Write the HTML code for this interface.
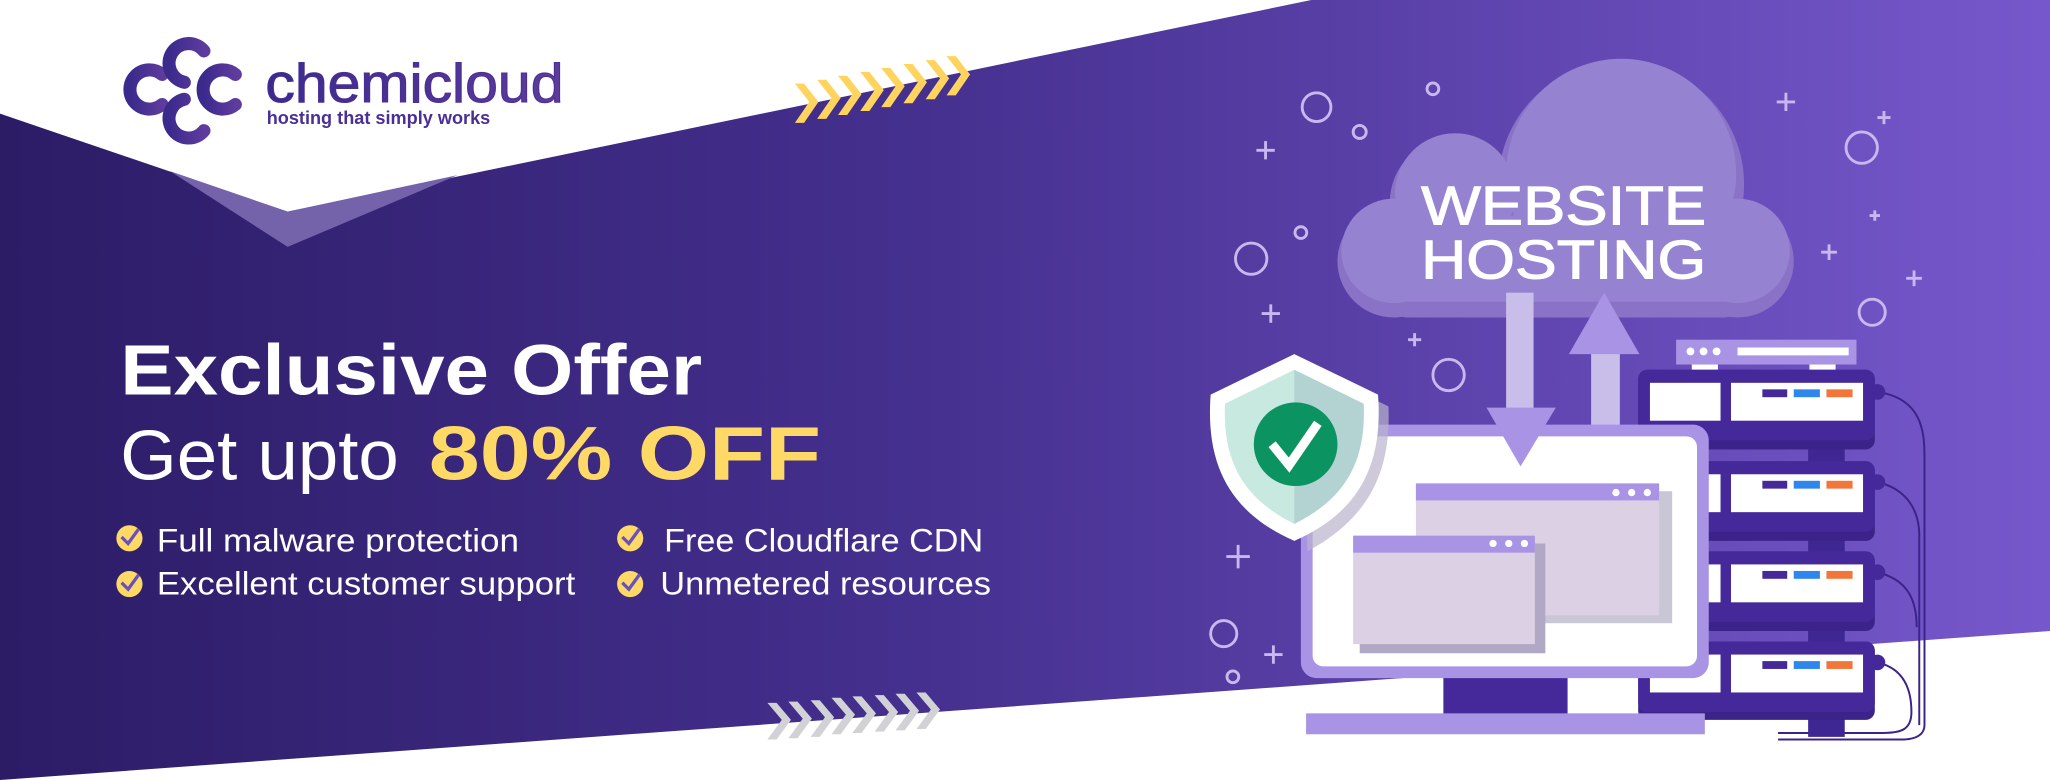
<!DOCTYPE html>
<html><head><meta charset="utf-8"><style>
html,body{margin:0;padding:0;background:#fff;}
svg{display:block;}
</style></head><body>
<svg width="2050" height="780" viewBox="0 0 1568 597" preserveAspectRatio="none" xmlns="http://www.w3.org/2000/svg">
<defs>
<linearGradient id="bg" x1="0" y1="0" x2="1" y2="0">
<stop offset="0" stop-color="#2c1c66"/><stop offset="0.45" stop-color="#45308f"/><stop offset="1" stop-color="#7758cc"/>
</linearGradient>
<linearGradient id="logo" x1="0" y1="0" x2="1" y2="0">
<stop offset="0" stop-color="#3a2a8c"/><stop offset="1" stop-color="#5e3b9c"/>
</linearGradient>
</defs>
<rect width="1568" height="597" fill="#fff"/>
<polygon points="0,87 220,162 1003,0 1568,0 1568,483 0,597" fill="url(#bg)"/>
<polygon points="130,131 220,162 350,134 220,189" fill="#7462ab"/>

<!-- logo -->
<g fill="none" stroke="url(#logo)" stroke-width="10" stroke-linecap="round">
<path d="M124,57 A15,15 0 1 0 124,80"/>
<path d="M156,39 A15,15 0 1 0 141,63"/>
<path d="M180,57 A15,15 0 1 0 180,80"/>
<path d="M141,76 A15,15 0 1 0 156,100"/>
</g>
<text x="203" y="78" font-family="Liberation Sans, sans-serif" font-size="42" fill="url(#logo)" stroke="#4a2f96" stroke-width="0.8" textLength="228" lengthAdjust="spacingAndGlyphs">chemicloud</text>
<text x="204" y="95" font-family="Liberation Sans, sans-serif" font-weight="bold" font-size="14" fill="#4a2f96" textLength="171" lengthAdjust="spacingAndGlyphs">hosting that simply works</text>

<!-- chevrons -->
<g fill="#ffd45e">
<polygon points="608,64 615,64 626,78 615,94 608,94 619,78"/>
<polygon points="625,61 632,61 643,75 632,91 625,91 636,75"/>
<polygon points="641,58 648,58 659,72 648,88 641,88 652,72"/>
<polygon points="658,55 665,55 676,69 665,85 658,85 669,69"/>
<polygon points="674,52 681,52 692,66 681,82 674,82 685,66"/>
<polygon points="691,49 698,49 709,63 698,79 691,79 702,63"/>
<polygon points="708,46 715,46 726,60 715,76 708,76 719,60"/>
<polygon points="724,43 731,43 742,57 731,73 724,73 735,57"/>
</g>
<g fill="#d2d2d6">
<polygon points="587,538 594,538 605,551 594,566 587,566 598,551"/>
<polygon points="603,537 610,537 621,550 610,565 603,565 614,550"/>
<polygon points="620,536 627,536 638,549 627,564 620,564 631,549"/>
<polygon points="636,534 643,534 654,547 643,562 636,562 647,547"/>
<polygon points="652,533 659,533 670,546 659,561 652,561 663,546"/>
<polygon points="669,532 676,532 687,545 676,560 669,560 680,545"/>
<polygon points="685,531 692,531 703,544 692,559 685,559 696,544"/>
<polygon points="701,530 708,530 719,543 708,558 701,558 712,543"/>
</g>

<!-- headline -->
<text x="92" y="302" font-family="Liberation Sans, sans-serif" font-weight="bold" font-size="55" fill="#fff" textLength="445" lengthAdjust="spacingAndGlyphs">Exclusive Offer</text>
<text x="92" y="367" font-family="Liberation Sans, sans-serif" font-size="54" fill="#fff" textLength="213" lengthAdjust="spacingAndGlyphs">Get upto</text>
<text x="328" y="367" font-family="Liberation Sans, sans-serif" font-weight="bold" font-size="58" fill="#ffd966" textLength="300" lengthAdjust="spacingAndGlyphs">80% OFF</text>

<!-- bullets -->
<g font-family="Liberation Sans, sans-serif" font-size="25" fill="#fff">
<text x="120" y="422" textLength="277" lengthAdjust="spacingAndGlyphs">Full malware protection</text>
<text x="120" y="455" textLength="320" lengthAdjust="spacingAndGlyphs">Excellent customer support</text>
<text x="508" y="422" textLength="244" lengthAdjust="spacingAndGlyphs">Free Cloudflare CDN</text>
<text x="505" y="455" textLength="253" lengthAdjust="spacingAndGlyphs">Unmetered resources</text>
</g>
<g>
<circle cx="99" cy="412" r="10" fill="#ffd966"/><circle cx="99" cy="447" r="10" fill="#ffd966"/>
<circle cx="482" cy="412" r="10" fill="#ffd966"/><circle cx="482" cy="447" r="10" fill="#ffd966"/>
<g fill="none" stroke="#6a4fbf" stroke-width="2.5">
<polyline points="93,411 98,416 106,405"/><polyline points="93,446 98,451 106,440"/>
<polyline points="476,411 481,416 489,405"/><polyline points="476,446 481,451 489,440"/>
</g>
</g>

<!-- decorations -->
<g fill="none" stroke="#c9b8f0" stroke-width="2.2">
<circle cx="1007" cy="82" r="11"/><circle cx="1096" cy="68" r="4.5"/><circle cx="1040" cy="101" r="5"/>
<circle cx="957" cy="198" r="12"/><circle cx="995" cy="178" r="4.5"/><circle cx="1108" cy="287" r="12"/>
<circle cx="1424" cy="113" r="12"/><circle cx="1432" cy="239" r="10"/><circle cx="936" cy="485" r="10"/><circle cx="943" cy="518" r="4.5"/>
<path d="M961,115h14M968,108v14 M965,240h14M972,233v14 M1077,260h10M1082,255v10 M1359,78h14M1366,71v14 M1436,90h10M1441,85v10 M1430,165h8M1434,161v8 M1393,193h12M1399,187v12 M1458,213h12M1464,207v12 M938,426h18M947,417v18 M967,501h14M974,494v14"/>
</g>

<!-- cloud -->
<g fill="#8a72c6">
<circle cx="1240" cy="141" r="94"/><circle cx="1113" cy="155" r="50"/><circle cx="1066" cy="200" r="43"/><circle cx="1329" cy="200" r="43"/>
<rect x="1066" y="170" width="263" height="73" rx="10"/>
</g>
<g fill="#9582d0">
<circle cx="1240" cy="133" r="88"/><circle cx="1113" cy="148" r="46"/><circle cx="1066" cy="192" r="40"/><circle cx="1329" cy="192" r="40"/>
<rect x="1066" y="165" width="263" height="66" rx="10"/>
</g>
<g font-family="Liberation Sans, sans-serif" font-size="42" fill="#fff" stroke="#fff" stroke-width="0.8" text-anchor="middle">
<text x="1196" y="172" textLength="218" lengthAdjust="spacingAndGlyphs">WEBSITE</text>
<text x="1196" y="213" textLength="218" lengthAdjust="spacingAndGlyphs">HOSTING</text>
</g>

<!-- arrows -->
<rect x="1152" y="224" width="21" height="90" fill="#c9bdea"/>
<rect x="1217" y="270" width="22" height="58" fill="#c9bdea"/>
<polygon points="1200,271 1227,224 1254,271" fill="#a993e4"/>

<!-- server rack -->
<g>
<rect x="1282" y="260" width="138" height="19" fill="#a993e4"/>
<circle cx="1293" cy="269" r="3" fill="#fff"/><circle cx="1303" cy="269" r="3" fill="#fff"/><circle cx="1313" cy="269" r="3" fill="#fff"/>
<rect x="1329" y="266" width="85" height="6" fill="#fff"/>
<rect x="1294" y="279" width="20" height="5" fill="#fff"/><rect x="1384" y="279" width="20" height="5" fill="#fff"/>
<g fill="none" stroke="#3b238a" stroke-width="1.5">
<path d="M1436,300 C1470,305 1472,330 1472,350 V555 C1472,562 1466,566 1455,566 H1360"/>
<path d="M1436,369 C1462,375 1468,395 1468,410 V555"/>
<path d="M1436,438 C1460,444 1466,460 1466,480"/>
<path d="M1436,507 C1458,512 1462,530 1462,545 C1462,558 1455,561 1440,561 H1360"/>
</g>
<rect x="1383" y="344" width="28" height="220" fill="#3f2793"/>
<g>
<rect x="1253" y="283" width="181" height="61" rx="7" fill="#3b238a"/><rect x="1253" y="283" width="181" height="54" rx="7" fill="#45299b"/>
<rect x="1253" y="353" width="181" height="61" rx="7" fill="#3b238a"/><rect x="1253" y="353" width="181" height="54" rx="7" fill="#45299b"/>
<rect x="1253" y="422" width="181" height="61" rx="7" fill="#3b238a"/><rect x="1253" y="422" width="181" height="54" rx="7" fill="#45299b"/>
<rect x="1253" y="491" width="181" height="60" rx="7" fill="#3b238a"/><rect x="1253" y="491" width="181" height="54" rx="7" fill="#45299b"/>
<circle cx="1436" cy="300" r="6" fill="#45299b"/><circle cx="1436" cy="369" r="6" fill="#45299b"/><circle cx="1436" cy="438" r="6" fill="#45299b"/><circle cx="1436" cy="507" r="6" fill="#45299b"/>
</g>
<g fill="#fff">
<rect x="1262" y="293" width="54" height="29"/><rect x="1324" y="293" width="101" height="29"/>
<rect x="1262" y="363" width="54" height="29"/><rect x="1324" y="363" width="101" height="29"/>
<rect x="1262" y="432" width="54" height="29"/><rect x="1324" y="432" width="101" height="29"/>
<rect x="1262" y="501" width="54" height="29"/><rect x="1324" y="501" width="101" height="29"/>
</g>
<g>
<rect x="1348" y="298" width="19" height="6" fill="#45299b"/><rect x="1372" y="298" width="20" height="6" fill="#2f86ec"/><rect x="1397" y="298" width="20" height="6" fill="#f2763a"/>
<rect x="1348" y="368" width="19" height="6" fill="#45299b"/><rect x="1372" y="368" width="20" height="6" fill="#2f86ec"/><rect x="1397" y="368" width="20" height="6" fill="#f2763a"/>
<rect x="1348" y="437" width="19" height="6" fill="#45299b"/><rect x="1372" y="437" width="20" height="6" fill="#2f86ec"/><rect x="1397" y="437" width="20" height="6" fill="#f2763a"/>
<rect x="1348" y="506" width="19" height="6" fill="#45299b"/><rect x="1372" y="506" width="20" height="6" fill="#2f86ec"/><rect x="1397" y="506" width="20" height="6" fill="#f2763a"/>
</g>
</g>

<!-- monitor -->
<rect x="1104" y="517" width="95" height="31" fill="#45299b"/>
<rect x="999" y="546" width="305" height="16" fill="#a993e4"/>
<rect x="995" y="325" width="312" height="194" rx="12" fill="#a993e4"/>
<rect x="1004" y="334" width="294" height="176" rx="8" fill="#fff"/>
<polygon points="1137,312 1190,312 1163,357" fill="#a993e4"/>
<rect x="1093" y="376" width="186" height="101" fill="#c9c6d6"/>
<rect x="1083" y="370" width="186" height="101" fill="#dbd0e4"/>
<rect x="1083" y="370" width="186" height="13" fill="#a993e4"/>
<circle cx="1236" cy="377" r="2.8" fill="#fff"/><circle cx="1248" cy="377" r="2.8" fill="#fff"/><circle cx="1260" cy="377" r="2.8" fill="#fff"/>
<rect x="1040" y="416" width="142" height="84" fill="#b0a8c4"/>
<rect x="1035" y="410" width="139" height="83" fill="#dbd0e4"/>
<rect x="1035" y="410" width="139" height="13" fill="#a993e4"/>
<circle cx="1142" cy="416" r="2.8" fill="#fff"/><circle cx="1154" cy="416" r="2.8" fill="#fff"/><circle cx="1166" cy="416" r="2.8" fill="#fff"/>

<!-- shield -->
<path d="M996,279 L1062,311 C1064,360 1048,396 1000,422 Z" fill="#b9b4cc" opacity="0.7"/>
<path d="M990,271 L1054,302 C1058,355 1040,392 990,414 C940,392 922,355 926,302 Z" fill="#fff"/>
<path d="M990,283 L1043,309 C1045,352 1030,381 990,401 C950,381 935,352 937,309 Z" fill="#c8e9e0"/>
<path d="M990,283 L1043,309 C1045,352 1030,381 990,401 Z" fill="#b3d3d3"/>
<ellipse cx="991" cy="340" rx="32" ry="32" fill="#0b9361"/>
<polyline points="973,340 986,356 1008,324" fill="none" stroke="#fff" stroke-width="7"/>
</svg>
</body></html>
